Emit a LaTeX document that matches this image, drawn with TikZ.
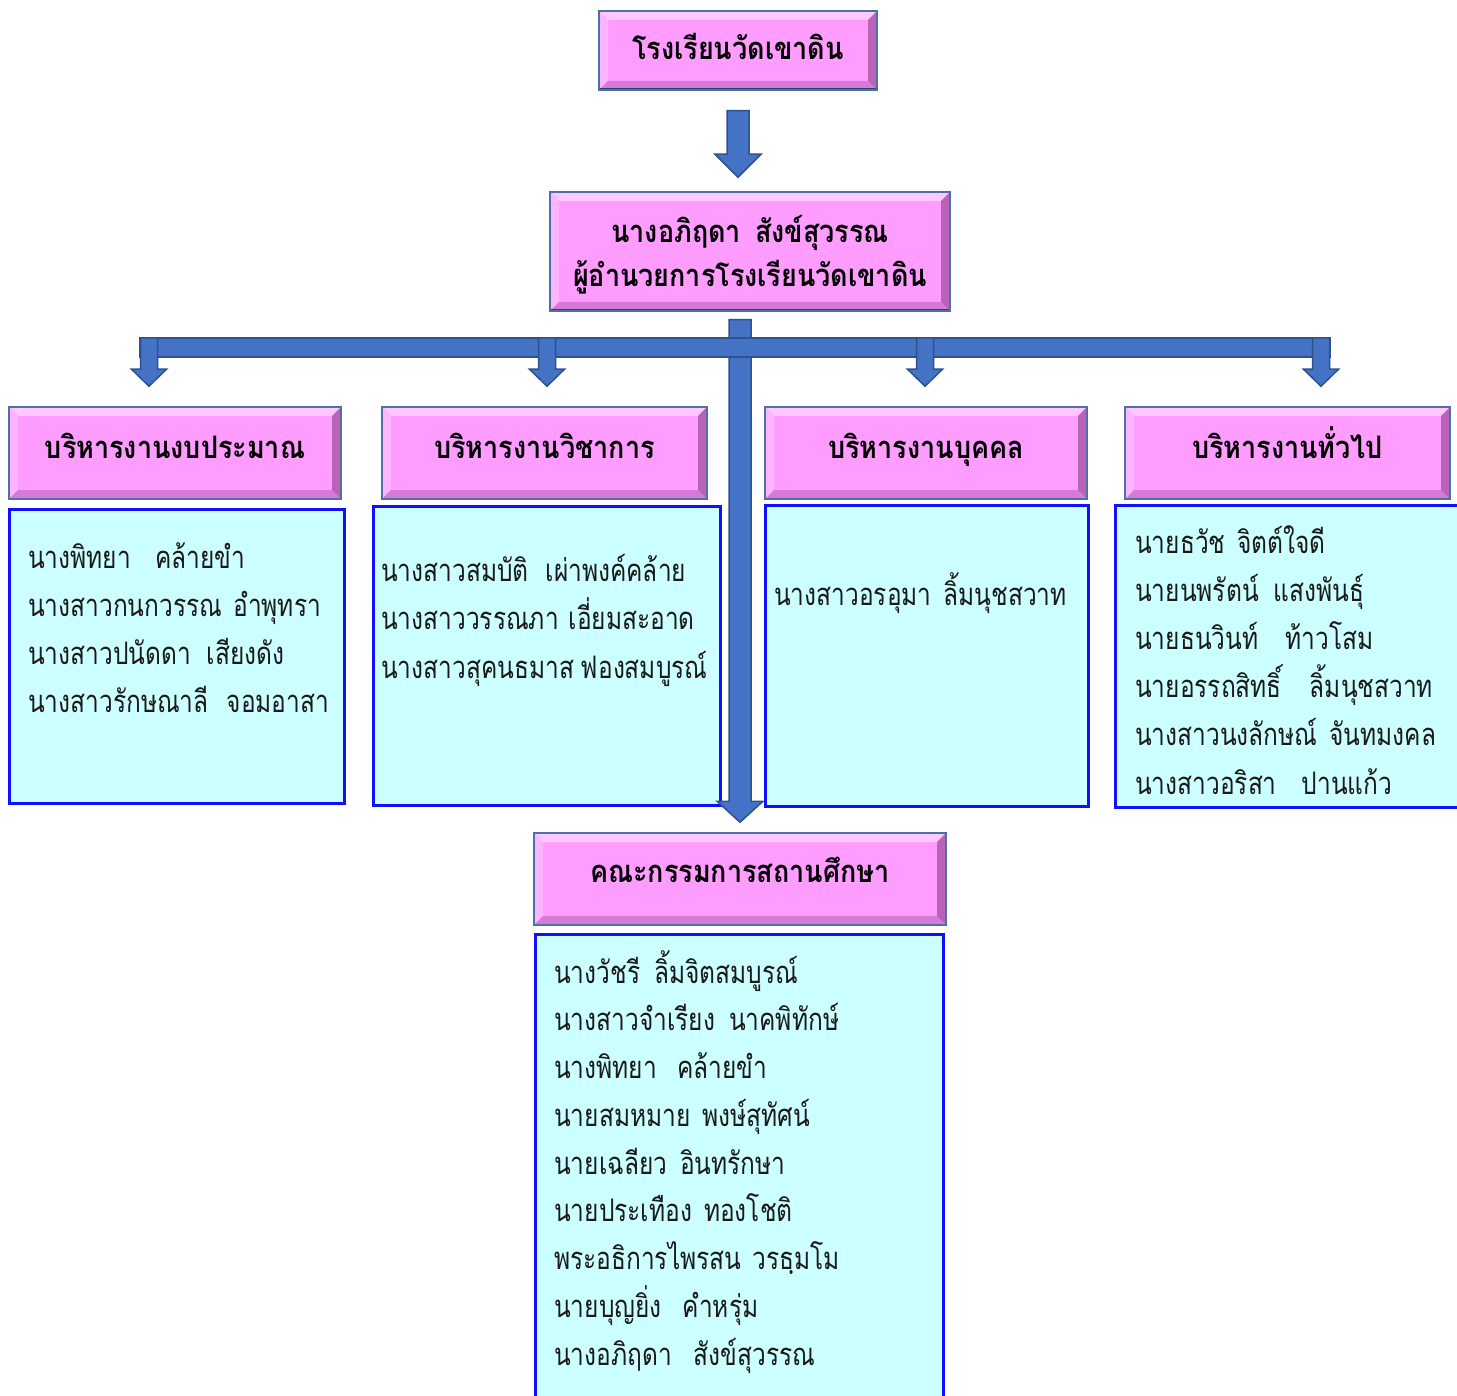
\documentclass[tikz,border=0pt]{standalone}
\usepackage{fontspec}
\newfontfamily\thai[Script=Thai,FakeStretch=0.79]{Loma}
\newfontfamily\thaih[Script=Thai,FakeStretch=0.87]{Loma}
\usetikzlibrary{calc}
\definecolor{pinkfill}{HTML}{FF9CFF}
\definecolor{pinktop}{HTML}{FFC8FF}
\definecolor{pinkleft}{HTML}{FFB4FF}
\definecolor{pinkbot}{HTML}{D77AD7}
\definecolor{pinkright}{HTML}{B862B8}
\definecolor{pinkline}{HTML}{4F6FA8}
\definecolor{cyanfill}{HTML}{CCFFFF}
\definecolor{cyanline}{HTML}{1010FF}
\definecolor{arrowfill}{HTML}{4472C4}
\definecolor{arrowline}{HTML}{2F528F}
\definecolor{textcol}{HTML}{1A1A1A}
\tikzset{
  pinkbox/.style={draw=pinkline, line width=1.5pt, fill=pinkfill, inner sep=0pt,
    path picture={
      \coordinate (pnw) at (path picture bounding box.north west);
      \coordinate (pne) at (path picture bounding box.north east);
      \coordinate (psw) at (path picture bounding box.south west);
      \coordinate (pse) at (path picture bounding box.south east);
      \fill[pinktop] (pnw) -- (pne) -- ([xshift=-9pt,yshift=-9pt]pne) -- ([xshift=9pt,yshift=-9pt]pnw) -- cycle;
      \fill[pinkleft] (pnw) -- (psw) -- ([xshift=9pt,yshift=9pt]psw) -- ([xshift=9pt,yshift=-9pt]pnw) -- cycle;
      \fill[pinkbot] (psw) -- (pse) -- ([xshift=-9pt,yshift=9pt]pse) -- ([xshift=9pt,yshift=9pt]psw) -- cycle;
      \fill[pinkright] (pse) -- (pne) -- ([xshift=-9pt,yshift=-9pt]pne) -- ([xshift=-9pt,yshift=9pt]pse) -- cycle;
      \draw[line width=3pt, color=pinkline!60!black] (pne) -- (pse) -- (psw);
    }},
  cyanbox/.style={draw=cyanline, line width=3pt, fill=cyanfill, inner sep=0pt, anchor=north west},
  blockarrow/.style={draw=arrowline, line width=1.5pt, fill=arrowfill},
  listtext/.style={font=\thai\fontsize{31}{36}\selectfont, text=textcol, inner sep=0pt, anchor=base west},
  headtext/.style={font=\thaih\bfseries\fontsize{31}{36}\selectfont, text=black, inner sep=0pt, anchor=base}
}
\newcommand\blockdown[5]{%
  \draw[blockarrow] let \p1=(#1), \p2=(#2) in
    (\x1-#3,\y1) -- (\x1+#3,\y1) -- (\x1+#3,\y2+#5) -- (\x1+#4,\y2+#5) --
    (\x1,\y2) -- (\x1-#4,\y2+#5) -- (\x1-#3,\y2+#5) -- cycle;}
\newcommand\namelist[5]{%
  \foreach \t [count=\i from 0] in {#5}
    \node[listtext] (#4-\i) at ({#1},{#2+\i*#3}) {\t};}
\begin{document}
\begin{tikzpicture}[x=1pt,y=-1pt]
\useasboundingbox (0,0) rectangle (1457,1396);
\clip (0,0) rectangle (1457,1396);
\fill[white] (0,0) rectangle (1457,1396);

% boxes
\node[pinkbox, minimum width=278pt, minimum height=79pt] (top) at (738,50.5) {};
\node[pinkbox, minimum width=400pt, minimum height=119pt] (dir) at (750,251.5) {};
\node[pinkbox, minimum width=332pt, minimum height=92pt] (h1) at (175,453) {};
\node[pinkbox, minimum width=325pt, minimum height=92pt] (h2) at (544.5,453) {};
\node[pinkbox, minimum width=322pt, minimum height=92pt] (h3) at (926,453) {};
\node[pinkbox, minimum width=325pt, minimum height=92pt] (h4) at (1287.5,453) {};
\node[pinkbox, minimum width=412pt, minimum height=92pt] (comm) at (740,879) {};

\node[cyanbox, minimum width=335pt, minimum height=294pt] (c1) at (8,508) {};
\node[cyanbox, minimum width=347pt, minimum height=299pt] (c2) at (372,505) {};
\node[cyanbox, minimum width=323pt, minimum height=301pt] (c3) at (764,504) {};
\node[cyanbox, minimum width=360pt, minimum height=302pt] (c4) at (1114,504) {};
\node[cyanbox, minimum width=408pt, minimum height=500pt] (c5) at (534,933) {};

% arrows
\coordinate (a1s) at ($(top.south)+(0,20)$);
\coordinate (a1t) at ($(top.south |- dir.north)+(0,-14)$);
\blockdown{a1s}{a1t}{11pt}{23pt}{23pt}

\coordinate (trs) at ($(comm.north |- dir.south)+(0,8)$);
\coordinate (trt) at ($(comm.north)+(0,-10)$);
\blockdown{trs}{trt}{11pt}{23pt}{21pt}

\coordinate (barl) at (140,338);
\coordinate (barr) at (1330,357);
\draw[blockarrow] (barl) rectangle (barr);

\coordinate (d1) at (149,338);
\coordinate (d2) at (547,338);
\coordinate (d3) at (925,338);
\coordinate (d4) at (1321,338);
\foreach \k in {1,2,3,4}{
  \coordinate (d\k t) at ($(d\k |- h\k.north)+(0,-20)$);
  \blockdown{d\k}{d\k t}{8.5pt}{17.5pt}{17pt}
}

% heading texts
\node[headtext] (tt) at (738,60) {โรงเรียนวัดเขาดิน};
\node[headtext] (dt1) at (750,243) {นางอภิฤดา\hspace{14pt}สังข์สุวรรณ};
\node[headtext] (dt2) at (750,287) {ผู้อำนวยการโรงเรียนวัดเขาดิน};
\node[headtext] (ht1) at (175,458) {บริหารงานงบประมาณ};
\node[headtext] (ht2) at (544.5,458) {บริหารงานวิชาการ};
\node[headtext] (ht3) at (926,458) {บริหารงานบุคคล};
\node[headtext] (ht4) at (1287.5,458) {บริหารงานทั่วไป};
\node[headtext] (ct) at (740,882) {คณะกรรมการสถานศึกษา};

% name lists
\namelist{28}{568}{48}{n1}{นางพิทยา\hspace{24pt}คล้ายขำ,นางสาวกนกวรรณ\hspace{11pt}อำพุทรา,นางสาวปนัดดา\hspace{16pt}เสียงดัง,นางสาวรักษณาลี\hspace{18pt}จอมอาสา}
\namelist{381}{581}{48.5}{n2}{นางสาวสมบัติ\hspace{17pt}เผ่าพงค์คล้าย,นางสาววรรณภา\hspace{10pt}เอี่ยมสะอาด,นางสาวสุคนธมาส\hspace{7pt}ฟองสมบูรณ์}
\namelist{774}{605}{48}{n3}{นางสาวอรอุมา\hspace{12pt}ลิ้มนุชสวาท}
\namelist{1135}{553}{48.2}{n4}{นายธวัช\hspace{12pt}จิตต์ใจดี,นายนพรัตน์\hspace{15pt}แสงพันธุ์,นายธนวินท์\hspace{27pt}ท้าวโสม,นายอรรถสิทธิ์\hspace{28pt}ลิ้มนุชสวาท,นางสาวนงลักษณ์\hspace{12pt}จันทมงคล,นางสาวอริสา\hspace{25pt}ปานแก้ว}
\namelist{554}{983}{47.75}{n5}{นางวัชรี\hspace{14pt}ลิ้มจิตสมบูรณ์,นางสาวจำเรียง\hspace{14pt}นาคพิทักษ์,นางพิทยา\hspace{20pt}คล้ายขำ,นายสมหมาย\hspace{12pt}พงษ์สุทัศน์,นายเฉลียว\hspace{13pt}อินทรักษา,นายประเทือง\hspace{12pt}ทองโชติ,พระอธิการไพรสน\hspace{11pt}วรธฺมโม,นายบุญยิ่ง\hspace{21pt}คำหรุ่ม,นางอภิฤดา\hspace{22pt}สังข์สุวรรณ}
\end{tikzpicture}
\end{document}
